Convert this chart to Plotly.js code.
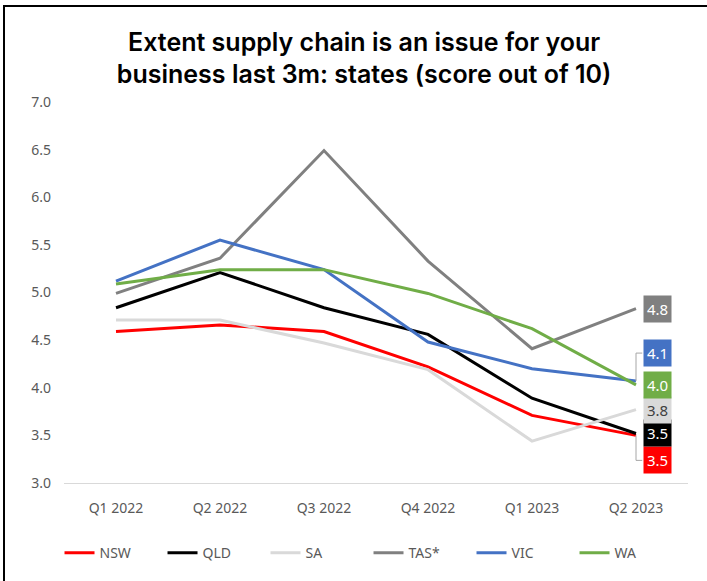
<!DOCTYPE html>
<html>
<head>
<meta charset="utf-8">
<script src="https://cdn.plot.ly/plotly-3.0.1.min.js"></script>
<style>
  html, body { margin: 0; padding: 0; background: #fff; }
  #wrap { position: relative; width: 707px; height: 581px; overflow: hidden; }
  #chart { width: 707px; height: 581px; }
  #frame { position: absolute; left: 3px; top: 5px; width: 900px; height: 900px;
           border-left: 2px solid #000; border-top: 2px solid #000; pointer-events: none; }
</style>
</head>
<body>
<div id="wrap"><div id="chart"></div><div id="frame"></div></div>
<script>
// ---- data ----
const quarters = ["Q1 2022", "Q2 2022", "Q3 2022", "Q4 2022", "Q1 2023", "Q2 2023"];
const states   = ["NSW", "QLD", "SA", "TAS*", "VIC", "WA"];
const nsw = [4.59, 4.66, 4.59, 4.22, 3.71, 3.50];
const qld = [4.84, 5.21, 4.84, 4.56, 3.89, 3.52];
const sa  = [4.71, 4.71, 4.47, 4.19, 3.44, 3.77];
const tas = [4.99, 5.36, 6.49, 5.33, 4.41, 4.83];
const vic = [5.12, 5.55, 5.24, 4.48, 4.20, 4.07];
const wa  = [5.09, 5.24, 5.24, 4.99, 4.62, 4.03];
const endLabels = ["3.5", "3.5", "3.8", "4.8", "4.1", "4.0"];

// ---- styles ----
const seriesValues = [nsw, qld, sa, tas, vic, wa];
const colors = ["#ff0000", "#000000", "#d9d9d9", "#808080", "#4472c4", "#70ad47"];
const labelTextColors = ["#ffffff", "#ffffff", "#404040", "#ffffff", "#ffffff", "#ffffff"];
const labelShift = [-25, 0, 0, 0, 28, 0];   // px, to avoid overlaps

const traces = states.map((s, i) => ({
  type: "scatter", mode: "lines", name: s,
  x: quarters, y: seriesValues[i],
  line: { color: colors[i], width: 3 },
  hoverinfo: "x+y+name"
}));

const last = quarters.length - 1;
const annotations = states.map((s, i) => ({
  xref: "x", yref: "y", x: quarters[last], y: seriesValues[i][last],
  xshift: 21, yshift: labelShift[i],
  text: endLabels[i], showarrow: false,
  bgcolor: colors[i], borderpad: 3,
  font: { family: "Noto Sans, sans-serif", size: 15, color: labelTextColors[i] }
}));

// leader lines for displaced labels
const shapes = [];
states.forEach((s, i) => {
  if (labelShift[i] !== 0) {
    const yv = seriesValues[i][last];
    const yl = yv + labelShift[i] / 95.25;
    shapes.push({
      type: "path", xref: "x", yref: "y",
      path: `M ${last} ${yv} L ${last} ${yl} L ${last + 0.06} ${yl}`,
      line: { color: "#a6a6a6", width: 1 }
    });
  }
});

const layout = {
  width: 707, height: 581,
  paper_bgcolor: "#ffffff", plot_bgcolor: "#ffffff",
  margin: { l: 64, r: 19, t: 102, b: 98 },
  title: {
    text: "Extent supply chain is an issue for your<br>business last 3m: states (score out of 10)",
    font: { family: "Inter, sans-serif", size: 25, color: "#000000", weight: 600 },
    x: 0.515, xanchor: "center", y: 0.913, yanchor: "middle", xref: "container", yref: "container"
  },
  xaxis: {
    type: "category", range: [-0.5, quarters.length - 0.5],
    showgrid: false, zeroline: false,
    showline: true, linecolor: "#d9d9d9", linewidth: 1,
    ticks: "", ticklabelstandoff: 12,
    tickfont: { family: "Noto Sans, sans-serif", size: 14, color: "#595959" },
    fixedrange: true
  },
  yaxis: {
    range: [3, 7], dtick: 0.5, tickformat: ".1f",
    showgrid: false, zeroline: false, showline: false,
    ticks: "", ticklabelstandoff: 12,
    tickfont: { family: "Noto Sans, sans-serif", size: 14, color: "#595959" },
    fixedrange: true
  },
  showlegend: true,
  legend: {
    orientation: "h", x: 0.488, xanchor: "center", y: -0.184, yanchor: "middle",
    entrywidth: 58, entrywidthmode: "pixels", itemwidth: 30,
    font: { family: "Noto Sans, sans-serif", size: 14, color: "#595959" },
    traceorder: "normal"
  },
  annotations: annotations,
  shapes: shapes
};

Plotly.newPlot("chart", traces, layout, { displayModeBar: false, staticPlot: true });
</script>
</body>
</html>
